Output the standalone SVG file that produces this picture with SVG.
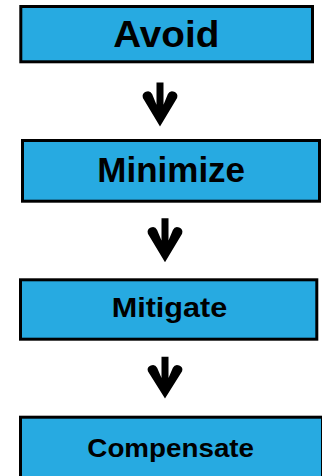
<svg xmlns="http://www.w3.org/2000/svg" width="322" height="476" viewBox="0 0 322 476">
<style>
.box{fill:#27AAE1;stroke:#000;stroke-width:3}
.lbl{font-family:"Liberation Sans",Arial,sans-serif;font-weight:bold;fill:#000;text-anchor:middle}
.arr{fill:#000}
</style>
<defs>
<path id="arrow" d="M0,44 L-17.1,15.4 A5,5 0 0 1 -7.9,11.6 L-3.5,22.3 L-3.5,0 L3.5,0 L3.5,22.3 L7.9,11.6 A5,5 0 0 1 17.1,15.4 Z"/>
</defs>
<rect width="322" height="476" fill="#fff"/>
<g id="connectors">
<use href="#arrow" class="arr" transform="translate(160,82.5)"/>
<use href="#arrow" class="arr" transform="translate(165,218.3)"/>
<use href="#arrow" class="arr" transform="translate(165,356.7) scale(1,0.95)"/>
</g>
<g id="avoid">
<rect class="box" x="20.8" y="6.5" width="291.7" height="55.3"/>
<text class="lbl" x="166.3" y="47.3" font-size="36" textLength="106" lengthAdjust="spacingAndGlyphs">Avoid</text>
</g>
<g id="minimize">
<rect class="box" x="22.5" y="140.5" width="297" height="60.7"/>
<text class="lbl" x="171.2" y="182.3" font-size="35" textLength="147.7" lengthAdjust="spacingAndGlyphs">Minimize</text>
</g>
<g id="mitigate">
<rect class="box" x="20.5" y="279.8" width="296.3" height="59.4"/>
<text class="lbl" x="169.5" y="317.3" font-size="27" textLength="115.6" lengthAdjust="spacingAndGlyphs">Mitigate</text>
</g>
<g id="compensate">
<rect class="box" x="20.5" y="417.2" width="302" height="80"/>
<text class="lbl" x="170.7" y="456.6" font-size="25.5" textLength="166.7" lengthAdjust="spacingAndGlyphs">Compensate</text>
</g>
</svg>
